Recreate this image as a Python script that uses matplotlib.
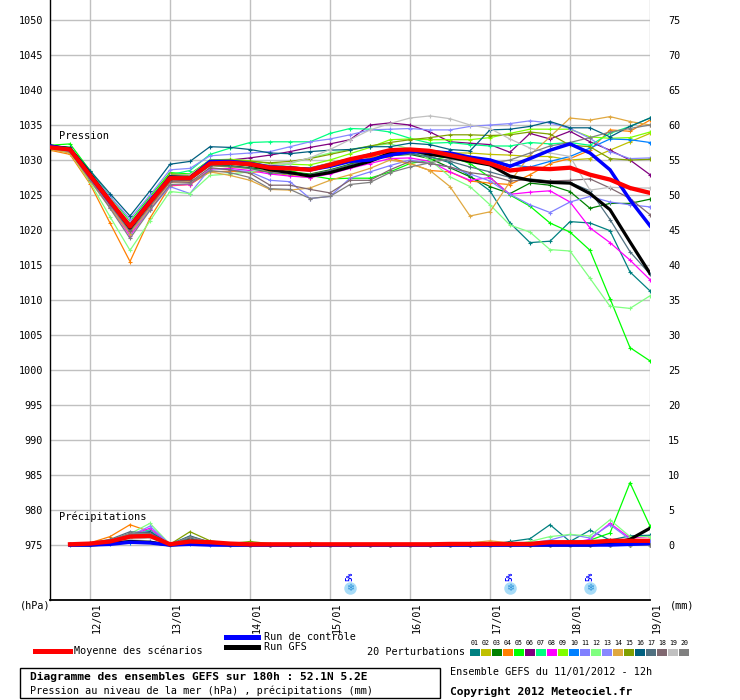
import matplotlib
matplotlib.use("Agg")
import matplotlib.pyplot as plt
from matplotlib.lines import Line2D
from matplotlib.patches import Rectangle

# ---------------- data ----------------
hours = [0, 6, 12, 18, 24, 30, 36, 42, 48, 54, 60, 66, 72, 78, 84, 90, 96, 102,
         108, 114, 120, 126, 132, 138, 144, 150, 156, 162, 168, 174, 180]
precip_hours = hours[1:]

day_hours = [12, 36, 60, 84, 108, 132, 156, 180]
day_labels = ["12/01", "13/01", "14/01", "15/01", "16/01", "17/01", "18/01", "19/01"]

hpa_ticks = [975, 980, 985, 990, 995, 1000, 1005, 1010, 1015, 1020, 1025, 1030, 1035, 1040, 1045, 1050]
mm_ticks = [0, 5, 10, 15, 20, 25, 30, 35, 40, 45, 50, 55, 60, 65, 70, 75]

mean_p = [1031.8, 1031.5, 1027.8, 1024.1, 1020.5, 1024.0, 1027.4, 1027.4, 1029.5, 1029.6, 1029.4,
          1028.9, 1028.8, 1028.6, 1029.3, 1030.1, 1030.7, 1031.4, 1031.5, 1031.3, 1030.7,
          1030.1, 1029.5, 1028.5, 1028.8, 1028.7, 1028.9, 1027.9, 1027.2, 1026.0, 1025.3]
gfs_p = [1032.0, 1031.6, 1028.0, 1024.2, 1020.3, 1024.0, 1027.6, 1027.5, 1029.7, 1029.6, 1029.3,
         1028.6, 1028.2, 1027.7, 1028.2, 1029.0, 1029.8, 1031.0, 1031.4, 1030.8, 1030.4,
         1029.8, 1029.3, 1027.7, 1027.1, 1026.8, 1026.7, 1025.2, 1022.9, 1018.3, 1013.8]
ctrl_p = [1032.0, 1031.5, 1027.7, 1024.0, 1020.6, 1024.2, 1027.5, 1027.4, 1029.8, 1029.8, 1029.5,
          1029.0, 1028.9, 1028.6, 1029.1, 1029.8, 1030.0, 1030.7, 1031.2, 1031.2, 1031.0,
          1030.4, 1030.0, 1029.1, 1030.2, 1031.4, 1032.3, 1031.0, 1028.6, 1024.3, 1020.6]

pert_p = [
    [1032.0, 1031.7, 1028.0, 1024.3, 1020.8, 1024.3, 1027.8, 1027.6, 1029.8, 1029.9, 1029.6,
     1029.2, 1029.0, 1028.8, 1029.4, 1030.2, 1030.9, 1031.2, 1031.0, 1030.5, 1029.6,
     1027.7, 1025.6, 1021.0, 1018.2, 1018.4, 1021.2, 1021.0, 1019.9, 1014.0, 1011.3],
    [1031.8, 1031.4, 1027.6, 1023.8, 1020.0, 1023.8, 1027.3, 1027.2, 1029.2, 1029.0, 1028.8,
     1028.2, 1027.8, 1027.5, 1028.3, 1029.4, 1030.3, 1031.0, 1031.3, 1031.2, 1031.0,
     1031.0, 1030.8, 1030.7, 1030.5, 1030.5, 1030.0, 1030.2, 1031.4, 1032.6, 1033.8],
    [1031.9, 1031.5, 1027.7, 1023.9, 1020.2, 1023.8, 1027.2, 1027.3, 1029.3, 1029.2, 1028.9,
     1028.5, 1028.3, 1028.0, 1028.6, 1029.4, 1030.0, 1030.6, 1030.8, 1030.2, 1028.9,
     1027.6, 1026.2, 1025.2, 1026.7, 1026.4, 1025.5, 1023.1, 1023.8, 1023.8, 1024.4],
    [1031.4, 1030.8, 1026.6, 1021.0, 1015.5, 1021.7, 1026.3, 1026.5, 1028.3, 1028.4, 1028.2,
     1028.5, 1029.0, 1028.8, 1029.6, 1030.2, 1030.5, 1030.3, 1029.5, 1028.5, 1028.3,
     1027.0, 1026.7, 1026.5, 1027.9, 1029.5, 1030.2, 1031.4, 1034.3, 1034.1, 1035.7],
    [1032.1, 1032.3, 1028.5, 1024.8, 1021.2, 1024.8, 1028.2, 1028.0, 1030.0, 1030.0, 1029.8,
     1029.0, 1028.5, 1027.8, 1027.3, 1027.4, 1027.4, 1028.3, 1029.5, 1030.0, 1030.5,
     1029.5, 1027.5, 1025.0, 1023.4, 1021.0, 1019.7, 1017.1, 1010.2, 1003.2, 1001.3],
    [1031.9, 1031.6, 1027.9, 1024.0, 1020.1, 1023.9, 1027.5, 1027.4, 1029.7, 1030.0, 1030.3,
     1030.7, 1031.2, 1031.8, 1032.3, 1032.9, 1035.0, 1035.3, 1035.0, 1034.0, 1032.6,
     1032.4, 1032.2, 1031.1, 1033.8, 1033.0, 1034.1, 1032.6, 1031.4, 1030.0, 1027.9],
    [1032.0, 1031.8, 1028.3, 1024.7, 1021.0, 1024.5, 1027.9, 1028.5, 1030.8, 1031.7, 1032.5,
     1032.6, 1032.6, 1032.6, 1033.8, 1034.5, 1034.4, 1034.0, 1033.1, 1032.4, 1032.5,
     1032.2, 1032.0, 1032.0, 1032.5, 1032.3, 1032.5, 1032.1, 1033.8, 1034.8, 1036.0],
    [1031.8, 1031.3, 1027.3, 1023.3, 1019.2, 1023.0, 1026.4, 1026.5, 1028.7, 1028.8, 1028.5,
     1028.0, 1027.7, 1027.5, 1028.0, 1028.8, 1029.5, 1030.2, 1030.3, 1029.8, 1028.3,
     1027.1, 1027.5, 1025.1, 1025.4, 1025.6, 1024.0, 1020.3, 1018.2, 1015.7, 1012.9],
    [1032.0, 1031.8, 1028.2, 1024.6, 1021.0, 1024.6, 1028.0, 1027.9, 1030.0, 1030.1, 1029.9,
     1029.5, 1029.4, 1029.3, 1030.0, 1030.9, 1031.8, 1032.9, 1033.0, 1032.9, 1032.9,
     1032.9, 1033.2, 1033.8, 1034.4, 1034.4, 1034.4, 1033.3, 1033.1, 1033.2, 1034.0],
    [1031.9, 1031.5, 1027.8, 1024.1, 1020.4, 1024.0, 1027.6, 1027.6, 1029.6, 1029.5, 1029.2,
     1028.8, 1028.9, 1028.9, 1029.5, 1030.2, 1030.8, 1031.2, 1031.4, 1031.3, 1031.0,
     1030.5, 1030.0, 1029.3, 1029.0, 1029.8, 1030.5, 1031.7, 1033.0, 1032.9, 1032.5],
    [1031.7, 1031.2, 1027.3, 1023.4, 1019.6, 1022.9, 1026.2, 1025.2, 1028.8, 1028.6, 1028.3,
     1027.1, 1026.9, 1024.5, 1024.8, 1027.4, 1028.3, 1029.2, 1030.0, 1029.5, 1029.0,
     1028.0, 1027.0, 1025.1, 1023.6, 1022.5, 1024.0, 1024.8, 1024.0, 1023.6, 1023.3],
    [1031.6, 1031.0, 1026.8, 1021.9, 1017.1, 1021.3, 1025.5, 1025.2, 1027.8, 1028.0, 1028.3,
     1028.8, 1029.5, 1030.3, 1031.0, 1031.5, 1032.0, 1032.3, 1031.6, 1030.0, 1027.6,
     1026.2, 1023.6, 1020.7, 1019.7, 1017.2, 1017.0, 1013.1, 1009.1, 1008.8, 1010.6],
    [1032.0, 1031.7, 1028.2, 1024.8, 1021.6, 1025.0, 1028.6, 1028.8, 1030.6, 1030.8, 1031.0,
     1031.2, 1031.9, 1032.6, 1033.0, 1033.6, 1034.3, 1034.4, 1034.5, 1034.3, 1034.3,
     1034.8, 1035.0, 1035.2, 1035.6, 1035.3, 1034.5, 1033.1, 1031.2, 1030.2, 1030.3],
    [1031.5, 1031.0, 1027.0, 1023.2, 1019.5, 1023.2, 1026.8, 1026.9, 1028.3, 1027.8, 1027.1,
     1025.8, 1025.7, 1026.0, 1027.1, 1027.9, 1028.8, 1030.0, 1029.5, 1028.5, 1026.2,
     1022.0, 1022.6, 1026.9, 1030.7, 1033.3, 1036.0, 1035.7, 1036.2, 1035.5, 1035.0],
    [1031.9, 1031.6, 1028.0, 1024.3, 1020.6, 1024.3, 1028.0, 1027.8, 1029.9, 1030.0, 1029.8,
     1029.6, 1029.8, 1030.2, 1030.8, 1031.4, 1032.0, 1032.5, 1032.9, 1033.2, 1033.6,
     1033.6, 1033.5, 1033.6, 1034.0, 1033.7, 1032.1, 1031.9, 1030.2, 1030.0, 1030.1],
    [1032.0, 1031.8, 1028.5, 1025.2, 1022.0, 1025.6, 1029.4, 1029.8, 1031.9, 1031.8, 1031.5,
     1031.0, 1030.9, 1031.2, 1031.4, 1031.5, 1031.9, 1031.9, 1032.4, 1032.2, 1031.5,
     1031.3, 1034.3, 1034.4, 1034.8, 1035.5, 1034.6, 1034.6, 1033.3, 1034.8, 1036.0],
    [1031.8, 1031.4, 1027.6, 1023.8, 1020.0, 1023.6, 1027.0, 1027.1, 1029.2, 1029.1, 1028.8,
     1028.2, 1028.0, 1027.9, 1028.5, 1029.3, 1030.0, 1030.6, 1030.9, 1030.4, 1029.8,
     1029.0, 1028.3, 1027.5, 1027.3, 1027.0, 1026.8, 1025.6, 1021.5, 1016.9, 1013.7],
    [1031.8, 1031.3, 1027.5, 1023.6, 1019.8, 1023.4, 1026.9, 1026.8, 1028.9, 1028.6, 1028.1,
     1026.4, 1026.4, 1025.8, 1025.3, 1027.1, 1027.1, 1028.6, 1029.8, 1029.5, 1029.0,
     1028.2, 1027.8, 1027.0, 1027.2, 1027.0, 1027.1, 1027.3, 1026.0, 1024.5, 1022.2],
    [1031.9, 1031.6, 1028.0, 1024.5, 1021.0, 1024.4, 1027.8, 1027.9, 1029.8, 1029.7, 1029.5,
     1029.3, 1029.6, 1030.3, 1031.5, 1032.9, 1034.3, 1035.2, 1036.0, 1036.3, 1035.9,
     1035.0, 1034.5, 1033.0, 1031.7, 1031.0, 1030.5, 1025.7, 1026.1, 1026.0, 1026.0],
    [1031.7, 1031.2, 1027.2, 1023.1, 1018.8, 1022.8, 1026.5, 1026.6, 1028.5, 1028.2, 1027.5,
     1025.9, 1025.8, 1024.5, 1024.8, 1026.5, 1026.8, 1028.2, 1029.0, 1029.6, 1030.2,
     1029.8, 1029.5, 1030.0, 1031.0, 1032.0, 1032.5, 1033.2, 1034.0, 1034.5, 1035.0],
]

mean_mm = [0.1, 0.2, 0.5, 1.2, 1.3, 0.1, 0.5, 0.4, 0.2, 0.1, 0.1, 0.1, 0.1, 0.1, 0.1,
           0.1, 0.1, 0.1, 0.1, 0.15, 0.15, 0.15, 0.15, 0.15, 0.4, 0.4, 0.4, 0.6, 0.6, 0.6]
gfs_mm = [0.0, 0.0, 0.2, 0.5, 0.4, 0.0, 0.2, 0.1, 0.0, 0.0, 0.0, 0.0, 0.0, 0.0, 0.0,
          0.0, 0.0, 0.0, 0.0, 0.0, 0.0, 0.0, 0.0, 0.0, 0.0, 0.0, 0.0, 0.2, 0.8, 2.4]
ctrl_mm = [0.0, 0.0, 0.1, 0.4, 0.3, 0.0, 0.1, 0.0, 0.0, 0.0, 0.0, 0.0, 0.0, 0.0, 0.0,
           0.0, 0.0, 0.0, 0.0, 0.0, 0.0, 0.0, 0.0, 0.0, 0.0, 0.0, 0.0, 0.0, 0.1, 0.2]
pert_mm = [
    [0.1, 0.2, 0.5, 1.5, 1.2, 0.1, 0.8, 0.3, 0.1, 0, 0, 0, 0, 0, 0, 0, 0, 0, 0, 0, 0, 0, 0.5, 0.9, 2.9, 0.5, 2.1, 0.7, 1.3, 1.4],
    [0.1, 0.2, 0.4, 1.0, 1.4, 0.1, 0.6, 0.2, 0.1, 0, 0, 0, 0, 0, 0, 0, 0, 0, 0, 0, 0, 0, 0, 0, 0.2, 0.4, 0.3, 0.5, 0.3, 0.4],
    [0.1, 0.2, 0.4, 1.2, 1.5, 0.1, 0.9, 0.3, 0.1, 0, 0, 0, 0, 0, 0, 0, 0, 0, 0, 0, 0, 0, 0, 0, 0, 0, 0, 0, 0.3, 0.5],
    [0.1, 0.3, 1.2, 2.9, 1.9, 0.1, 0.6, 0.2, 0.1, 0, 0, 0.1, 0.3, 0.1, 0, 0, 0, 0, 0, 0, 0, 0, 0, 0, 0, 0, 0, 0, 0, 0],
    [0.1, 0.2, 0.5, 1.4, 2.0, 0.1, 0.4, 0.2, 0.1, 0, 0, 0, 0, 0, 0, 0, 0, 0, 0, 0, 0, 0, 0, 0, 0, 0.3, 0.7, 1.7, 8.9, 2.7],
    [0.1, 0.2, 0.4, 1.1, 1.6, 0.1, 0.5, 0.2, 0, 0, 0, 0, 0, 0, 0, 0, 0, 0, 0, 0, 0, 0, 0, 0, 0, 0, 0, 0, 0, 0],
    [0.1, 0.2, 0.5, 1.3, 2.2, 0.1, 0.4, 0.2, 0, 0, 0, 0, 0, 0, 0, 0, 0, 0, 0, 0, 0, 0, 0, 0, 0, 0, 0, 0, 0, 0],
    [0.1, 0.2, 0.5, 1.4, 2.4, 0.1, 0.6, 0.2, 0, 0, 0, 0, 0, 0, 0, 0, 0, 0, 0, 0, 0, 0, 0, 0, 0, 0.3, 0.8, 3.1, 1.0, 1.2],
    [0.1, 0.2, 0.5, 1.2, 1.8, 0.1, 0.4, 0.1, 0, 0, 0, 0, 0, 0, 0, 0, 0, 0, 0, 0, 0, 0, 0, 0, 0, 0, 0, 0, 0, 0],
    [0.0, 0.0, 0.1, 0.3, 0.5, 0.0, 0.2, 0, 0, 0, 0, 0, 0, 0, 0, 0, 0, 0, 0, 0, 0, 0, 0, 0, 0, 0, 0, 0, 0, 0],
    [0.1, 0.2, 0.5, 1.5, 2.0, 0.1, 0.5, 0.2, 0, 0, 0, 0, 0, 0, 0, 0, 0, 0, 0, 0, 0, 0, 0, 0.3, 0.7, 1.5, 1.0, 2.9, 0.8, 0.6],
    [0.1, 0.2, 0.6, 1.6, 3.1, 0.1, 0.5, 0.2, 0, 0, 0, 0, 0, 0, 0, 0, 0, 0, 0, 0, 0, 0, 0, 0.5, 1.2, 1.5, 1.3, 3.6, 1.2, 1.2],
    [0.1, 0.2, 0.6, 1.3, 2.7, 0.1, 0.5, 0.2, 0, 0, 0, 0, 0, 0, 0, 0, 0, 0, 0, 0, 0, 0, 0, 0, 0, 0, 0, 0, 0, 0],
    [0.1, 0.2, 0.4, 1.0, 1.3, 0.1, 0.4, 0.1, 0, 0, 0, 0, 0, 0, 0, 0, 0, 0, 0, 0, 0.3, 0.6, 0.3, 0, 0, 0, 0, 0, 0, 0],
    [0.1, 0.2, 0.5, 1.2, 1.8, 0.1, 1.9, 0.6, 0.2, 0.5, 0.2, 0, 0, 0, 0, 0, 0, 0, 0, 0, 0, 0, 0, 0, 0, 0, 0, 0, 0, 0],
    [0.1, 0.2, 0.6, 1.4, 1.9, 0.1, 1.3, 0.4, 0.1, 0, 0, 0, 0, 0, 0, 0, 0, 0, 0, 0, 0, 0, 0, 0, 0, 0, 0, 0, 0, 0],
    [0.1, 0.3, 0.8, 1.9, 1.7, 0.1, 1.0, 0.3, 0.1, 0, 0, 0, 0, 0, 0, 0, 0, 0, 0, 0, 0, 0, 0, 0, 0, 0, 0, 0, 0, 0],
    [0.1, 0.2, 0.6, 1.5, 1.4, 0.1, 0.7, 0.2, 0, 0, 0, 0, 0, 0, 0, 0, 0, 0, 0, 0, 0, 0, 0, 0, 0, 0, 0, 0, 0, 0],
    [0.1, 0.2, 0.3, 0.8, 1.0, 0.1, 0.4, 0.1, 0, 0, 0, 0, 0, 0, 0, 0, 0, 0, 0, 0, 0, 0, 0, 0, 0, 0, 0, 0, 0, 0],
    [0.1, 0.3, 0.7, 1.7, 1.6, 0.1, 1.2, 0.4, 0.1, 0, 0, 0, 0, 0, 0, 0, 0, 0, 0, 0, 0, 0, 0, 0, 0, 0, 0, 0, 0, 0],
]

pert_colors = ["#008080", "#c0c000", "#008000", "#ff8000", "#00ff00", "#800080", "#00ff80",
               "#ff00ff", "#80ff00", "#0080ff", "#8080ff", "#80ff80", "#8888ff", "#e0a840",
               "#80a000", "#006080", "#507080", "#806870", "#c0c0c0", "#808080"]
pert_labels = ["01", "02", "03", "04", "05", "06", "07", "08", "09", "10",
               "11", "12", "13", "14", "15", "16", "17", "18", "19", "20"]

snow_hours = [90, 138, 162]
snow_pct = [5, 5, 5]

# ---------------- figure ----------------
W, H = 740, 700
MONO = "DejaVu Sans Mono"
plt.rcParams["font.family"] = [MONO, "DejaVu Sans"]


def fx(x):
    return x / W


def fy(y):
    return 1 - y / H


fig = plt.figure(figsize=(W / 100, H / 100), dpi=100, facecolor="white")
ax = fig.add_axes([fx(50), 100 / H, 600 / W, 600 / H])
ax.set_facecolor("white")
ylo = 975 + (545 - 600) / 7.0
yhi = 975 + 545 / 7.0
ax.set_xlim(0, 180)
ax.set_ylim(ylo, yhi)

grid_c = "#c0c0c0"
for v in hpa_ticks:
    ax.axhline(v, color=grid_c, lw=1.0, zorder=0)
for h in day_hours:
    ax.axvline(h, color=grid_c, lw=1.0, zorder=0)

for s in ["top", "right"]:
    ax.spines[s].set_visible(False)
ax.spines["left"].set_color("black")
ax.spines["bottom"].set_color("black")
ax.spines["left"].set_linewidth(1.0)
ax.spines["bottom"].set_linewidth(1.3)

ax.set_yticks(hpa_ticks)
ax.set_yticklabels([str(v) for v in hpa_ticks], fontsize=7.3, family=MONO)
ax.tick_params(axis="y", length=0, pad=5)
ax.set_xticks([])

ax2 = ax.twinx()
ax2.set_ylim(ylo - 975, yhi - 975)
ax2.set_xlim(0, 180)
ax2.set_yticks(mm_ticks)
ax2.set_yticklabels([str(v) for v in mm_ticks], fontsize=7.3, family=MONO)
ax2.tick_params(axis="y", length=0, pad=13)
for s in ax2.spines.values():
    s.set_visible(False)
ax2.patch.set_visible(False)

# date labels
for h, lab in zip(day_hours, day_labels):
    ax.text(h + 0.5, ylo - 0.3, lab, rotation=90, ha="left", va="top",
            fontsize=7.3, family=MONO, clip_on=False)

# perturbations
for vals, mm, c in zip(pert_p, pert_mm, pert_colors):
    ax.plot(hours, vals, color=c, lw=0.9, marker="+", ms=3.5, mew=0.8, zorder=2)
    ax2.plot(precip_hours, mm, color=c, lw=0.9, marker="+", ms=3.5, mew=0.8, zorder=2)

ax.plot(hours, gfs_p, color="black", lw=2.3, zorder=3)
ax.plot(hours, ctrl_p, color="#0000ff", lw=2.5, zorder=4)
ax.plot(hours, mean_p, color="#ff0000", lw=3.1, zorder=5)
ax2.plot(precip_hours, gfs_mm, color="black", lw=2.3, zorder=3)
ax2.plot(precip_hours, ctrl_mm, color="#0000ff", lw=2.5, zorder=4)
ax2.plot(precip_hours, mean_mm, color="#ff0000", lw=3.1, zorder=5)

ax.text(2.7, 975 + (545 - 136) / 7.0, "Pression", fontsize=7.5, va="center", ha="left", family=MONO)
ax.text(2.7, 975 + (545 - 517) / 7.0, "Précipitations", fontsize=7.5, va="center", ha="left", family=MONO)

# snow icons
for h, pct in zip(snow_hours, snow_pct):
    ax.plot(h, 975 + (545 - 588) / 7.0, "o", ms=9, mfc="#a8dcf8", mec="none", zorder=6, clip_on=False)
    ax.text(h, 975 + (545 - 588) / 7.0, "\u2744", fontsize=7, color="#2a90d8", ha="center",
            va="center", family="DejaVu Sans", zorder=7)
    ax.text(h, 975 + (545 - 581) / 7.0, f"{pct}%", rotation=90, fontsize=5.5, color="#0000ff",
            ha="center", va="bottom", family=MONO, fontweight="bold", zorder=7)

# axis unit labels
fig.text(fx(20), fy(606), "(hPa)", fontsize=7.3, family=MONO, va="center", ha="left")
fig.text(fx(670), fy(606), "(mm)", fontsize=7.3, family=MONO, va="center", ha="left")

# legend
fig.add_artist(Line2D([fx(35), fx(70)], [fy(651), fy(651)], color="#ff0000", lw=3.6))
fig.text(fx(74), fy(651), "Moyenne des scénarios", fontsize=7.3, family=MONO, va="center", ha="left")
fig.add_artist(Line2D([fx(226), fx(258)], [fy(637), fy(637)], color="#0000ff", lw=3.6))
fig.text(fx(264), fy(637), "Run de contrôle", fontsize=7.3, family=MONO, va="center", ha="left")
fig.add_artist(Line2D([fx(226), fx(258)], [fy(647), fy(647)], color="black", lw=3.6))
fig.text(fx(264), fy(647), "Run GFS", fontsize=7.3, family=MONO, va="center", ha="left")
fig.text(fx(465), fy(652), "20 Perturbations", fontsize=7.3, family=MONO, va="center", ha="right")
for i, (c, lab) in enumerate(zip(pert_colors, pert_labels)):
    x0 = 470 + i * 11
    fig.add_artist(Rectangle((fx(x0), fy(656)), 10 / W, 7 / H, facecolor=c, edgecolor="none",
                             transform=fig.transFigure))
    fig.text(fx(x0 + 5), fy(643), lab, fontsize=4.8, family=MONO, va="center", ha="center")

# title box
fig.add_artist(Rectangle((fx(20), fy(698)), 420 / W, 30 / H, facecolor="none", edgecolor="black",
                         lw=1.0, transform=fig.transFigure))
fig.text(fx(30), fy(677), "Diagramme des ensembles GEFS sur 180h : 52.1N 5.2E", fontsize=8.1,
         family=MONO, fontweight="bold", va="center", ha="left")
fig.text(fx(30), fy(691), "Pression au niveau de la mer (hPa) , précipitations (mm)", fontsize=7.3,
         family=MONO, va="center", ha="left")
fig.text(fx(450), fy(672), "Ensemble GEFS du 11/01/2012 - 12h", fontsize=7.3, family=MONO,
         va="center", ha="left")
fig.text(fx(450), fy(692), "Copyright 2012 Meteociel.fr", fontsize=8.1, family=MONO,
         fontweight="bold", va="center", ha="left")

fig.savefig("out.png", dpi=100, facecolor="white")
